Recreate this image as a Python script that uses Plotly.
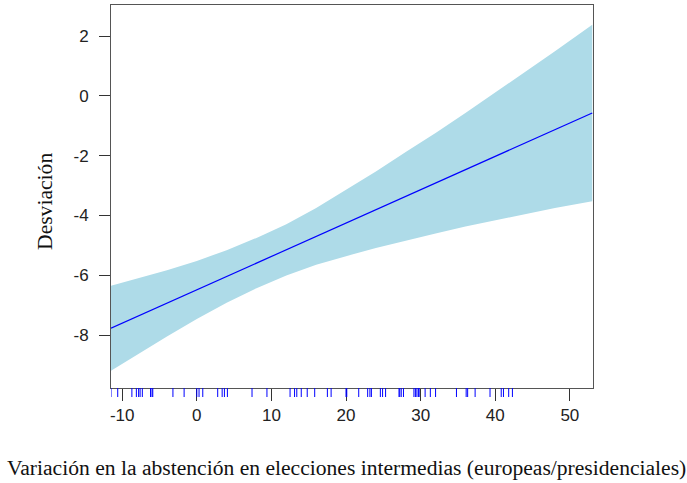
import plotly.graph_objects as go

# Fitted effect of the abstention change on the deviation, with 95% band
x_grid = [-11.5, -8, -4, 0, 4, 8, 12, 16, 20, 24, 28, 32, 36, 40, 44, 48, 53]
fit = [-7.77, -7.38, -6.94, -6.49, -6.04, -5.59, -5.15, -4.70, -4.25,
       -3.81, -3.36, -2.92, -2.47, -2.02, -1.58, -1.13, -0.57]
upper = [-6.35, -6.11, -5.83, -5.52, -5.16, -4.75, -4.29, -3.75, -3.14,
         -2.53, -1.88, -1.24, -0.57, 0.11, 0.79, 1.49, 2.38]
lower = [-9.19, -8.65, -8.05, -7.46, -6.92, -6.43, -6.01, -5.65, -5.36,
         -5.09, -4.84, -4.60, -4.37, -4.15, -3.95, -3.75, -3.52]

# Observed values of the predictor (rug)
rug_x = [-11.5, -10.6, -8.7, -8.1, -7.8, -7.6, -7.3, -6.2, -6.0, -5.9, -3.2, -1.7,
         0.0, 0.3, 0.8, 2.8, 3.4, 3.7, 4.1, 7.4, 9.4, 12.5, 13.1, 13.4, 14.0, 14.8,
         15.8, 17.5, 18.0, 20.0, 20.1, 21.7, 22.9, 23.2, 23.4, 24.6, 24.9, 25.3,
         27.1, 27.2, 27.4, 27.7, 29.1, 29.3, 29.5, 29.7, 29.8, 30.6, 31.3, 32.0,
         34.8, 36.1, 36.3, 37.3, 39.3, 40.8, 41.1, 41.8, 42.3]

x_ticks = [-10, 0, 10, 20, 30, 40, 50]
y_ticks = [-8, -6, -4, -2, 0, 2]

x_title = "Variación en la abstención en elecciones intermedias (europeas/presidenciales)"
y_title = "Desviación"

x_range = [-11.5, 53.1]
y_range = [-9.77, 3.04]

band_color = "#aedbe8"
line_color = "#0000ff"
axis_color = "#555555"

# Plot area: main panel on top, a thin strip underneath holds the rug
area_h = 392
rug_h = 9
split = rug_h / area_h

fig = go.Figure()

fig.add_trace(go.Scatter(
    x=x_grid + x_grid[::-1],
    y=upper + lower[::-1],
    fill="toself", fillcolor=band_color,
    line=dict(width=0, color=band_color),
    mode="lines", hoverinfo="skip", showlegend=False,
))
fig.add_trace(go.Scatter(
    x=x_grid, y=fit, mode="lines",
    line=dict(color=line_color, width=1.2),
    showlegend=False,
))

rug_xs, rug_ys = [], []
for v in rug_x:
    rug_xs += [v, v, None]
    rug_ys += [0, 1, None]
fig.add_trace(go.Scatter(
    x=rug_xs, y=rug_ys, yaxis="y2", mode="lines",
    line=dict(color=line_color, width=1),
    showlegend=False, hoverinfo="x",
))

tick_font = dict(family="Liberation Sans, Arial, sans-serif", size=17, color="#222222")
title_font = dict(family="Liberation Serif, Times New Roman, serif", size=21.6, color="#111111")

fig.update_layout(
    width=687, height=483,
    margin=dict(l=111, r=94, t=5, b=483 - 5 - area_h),
    paper_bgcolor="white", plot_bgcolor="white",
    xaxis=dict(
        range=x_range, tickvals=x_ticks, ticktext=[str(v) for v in x_ticks],
        anchor="y",
        showgrid=False, zeroline=False,
        showline=True, mirror=True, linecolor=axis_color, linewidth=1,
        ticks="outside", ticklen=12, tickcolor="#333333", tickwidth=1,
        tickfont=tick_font, ticklabelstandoff=0,
    ),
    yaxis=dict(
        domain=[split, 1],
        range=y_range, tickvals=y_ticks, ticktext=[str(v) for v in y_ticks],
        showgrid=False, zeroline=False,
        showline=True, mirror=True, linecolor=axis_color, linewidth=1,
        ticks="outside", ticklen=11, tickcolor="#333333", tickwidth=1,
        tickfont=tick_font, ticklabelstandoff=7,
    ),
    yaxis2=dict(domain=[0, split], range=[0, 1], anchor="x",
                visible=False, fixedrange=True),
    annotations=[
        dict(text=x_title, xref="paper", yref="paper", x=0.4896,
             y=(area_h + 5 - 468) / area_h,
             xanchor="center", yanchor="middle", showarrow=False, font=title_font),
        dict(text=y_title, xref="paper", yref="paper", x=-0.137,
             y=(area_h + 5 - 201) / area_h,
             xanchor="center", yanchor="middle", textangle=-90, showarrow=False,
             font=title_font),
    ],
)

fig.write_html("out.html")
